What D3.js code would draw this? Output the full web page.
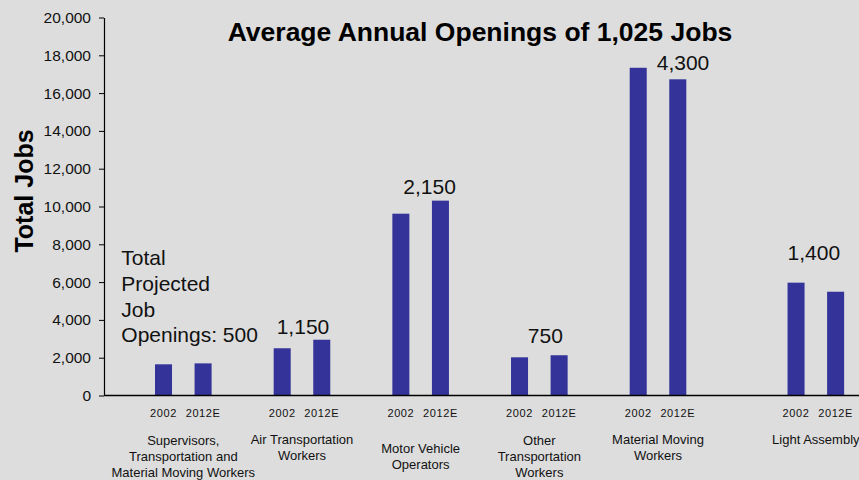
<!DOCTYPE html>
<html>
<head>
<meta charset="utf-8">
<script src="https://cdn.jsdelivr.net/npm/d3@7"></script>
<style>
  body { margin: 0; background: #dddddd; }
  svg { display: block; font-family: "Liberation Sans", Arial, sans-serif; }
</style>
</head>
<body>
<script>
// data
var categories = ["Supervisors", "Air", "Motor", "Other", "Material", "Light"];
var categoryLines = [
  ["Supervisors,", "Transportation and", "Material Moving Workers"],
  ["Air Transportation", "Workers"],
  ["Motor Vehicle", "Operators"],
  ["Other", "Transportation", "Workers"],
  ["Material Moving", "Workers"],
  ["Light Assembly"]
];
var years = ["2002", "2012E"];
var jobs2002 = [1650, 2500, 9620, 2020, 17340, 5970];
var jobs2012 = [1700, 2950, 10310, 2130, 16730, 5490];
var openings = [500, 1150, 2150, 750, 4300, 1400];
var yTicks = [0, 2000, 4000, 6000, 8000, 10000, 12000, 14000, 16000, 18000, 20000];

var width = 859, height = 480;
var barColor = "#333399";

// layout (slots of groups, label nudges)
var slots = [0, 1, 2, 3, 4, 5.33];
var catLabelTop = [445, 444, 453, 445, 444, 444];
var openDx = [-62, 1, 9, 6, 25, -2];
var openDy = [21, 6, 7, 12, -2, 23];

var svg = d3.select("body").append("svg")
    .attr("width", width)
    .attr("height", height);

svg.append("rect")
    .attr("width", width)
    .attr("height", height)
    .attr("fill", "#dddddd");

var y = d3.scaleLinear().domain([0, 20000]).range([395.5, 17.5]);

var slotX = d3.scaleLinear().domain([0, 4]).range([183.3, 658]);
var x = d3.scaleOrdinal()
    .domain(categories)
    .range(slots.map(function(s) { return slotX(s); }));

var xInner = d3.scaleBand()
    .domain(years)
    .range([-28.3, 28.3])
    .paddingInner(0.57);

var rows = [];
categories.forEach(function(c, i) {
  rows.push({cat: c, year: "2002", value: jobs2002[i]});
  rows.push({cat: c, year: "2012E", value: jobs2012[i]});
});

// y axis
var yAxis = d3.axisLeft(y)
    .tickValues(yTicks)
    .tickSizeInner(5)
    .tickSizeOuter(0)
    .tickPadding(8)
    .tickFormat(d3.format(","));

var gy = svg.append("g")
    .attr("transform", "translate(104,0)")
    .call(yAxis);
gy.select(".domain").attr("stroke", "#000").attr("stroke-width", 1.2);
gy.selectAll(".tick line").attr("stroke", "#000");
gy.selectAll(".tick text")
    .attr("fill", "#111")
    .attr("font-size", "15.5px")
    .attr("font-family", "Liberation Sans, Arial, sans-serif");

// bars
svg.append("g")
  .selectAll("rect")
  .data(rows)
  .enter().append("rect")
    .attr("x", function(d) { return x(d.cat) + xInner(d.year); })
    .attr("y", function(d) { return y(d.value); })
    .attr("width", xInner.bandwidth())
    .attr("height", function(d) { return y(0) - y(d.value); })
    .attr("fill", barColor);

// baseline
svg.append("line")
    .attr("x1", 104)
    .attr("x2", width)
    .attr("y1", y(0))
    .attr("y2", y(0))
    .attr("stroke", "#000")
    .attr("stroke-width", 1.5);

// year labels under bars
svg.append("g")
  .selectAll("text")
  .data(rows)
  .enter().append("text")
    .attr("x", function(d) { return x(d.cat) + xInner(d.year) + xInner.bandwidth() / 2; })
    .attr("y", 417.3)
    .attr("text-anchor", "middle")
    .attr("font-size", "11px")
    .attr("letter-spacing", "0.6px")
    .attr("fill", "#111")
    .text(function(d) { return d.year; });

// category labels
categoryLines.forEach(function(lines, i) {
  var t = svg.append("text")
      .attr("text-anchor", "middle")
      .attr("font-size", "13px")
      .attr("fill", "#111");
  lines.forEach(function(line, j) {
    t.append("tspan")
        .attr("x", x(categories[i]))
        .attr("y", catLabelTop[i] + j * 15.8)
        .text(line);
  });
});

// projected openings labels
openings.forEach(function(v, i) {
  var top = y(Math.max(jobs2002[i], jobs2012[i]));
  var base = top - openDy[i];
  if (i === 0) {
    var lines = ["Total", "Projected", "Job", "Openings: " + d3.format(",")(v)];
    var t = svg.append("text")
        .attr("font-size", "21px")
        .attr("fill", "#111");
    lines.forEach(function(line, j) {
      t.append("tspan")
          .attr("x", x(categories[i]) + openDx[i])
          .attr("y", base - (lines.length - 1 - j) * 25.7)
          .text(line);
    });
  } else {
    svg.append("text")
        .attr("x", x(categories[i]) + openDx[i])
        .attr("y", base)
        .attr("text-anchor", "middle")
        .attr("font-size", "21px")
        .attr("fill", "#111")
        .text(d3.format(",")(v));
  }
});

// y axis title
svg.append("text")
    .attr("transform", "translate(33,191) rotate(-90)")
    .attr("text-anchor", "middle")
    .attr("font-size", "25px")
    .attr("font-weight", "bold")
    .attr("fill", "#000")
    .text("Total Jobs");

// chart title
svg.append("text")
    .attr("x", 480)
    .attr("y", 40.5)
    .attr("text-anchor", "middle")
    .attr("font-size", "26.5px")
    .attr("font-weight", "bold")
    .attr("fill", "#000")
    .text("Average Annual Openings of 1,025 Jobs");
</script>
</body>
</html>
